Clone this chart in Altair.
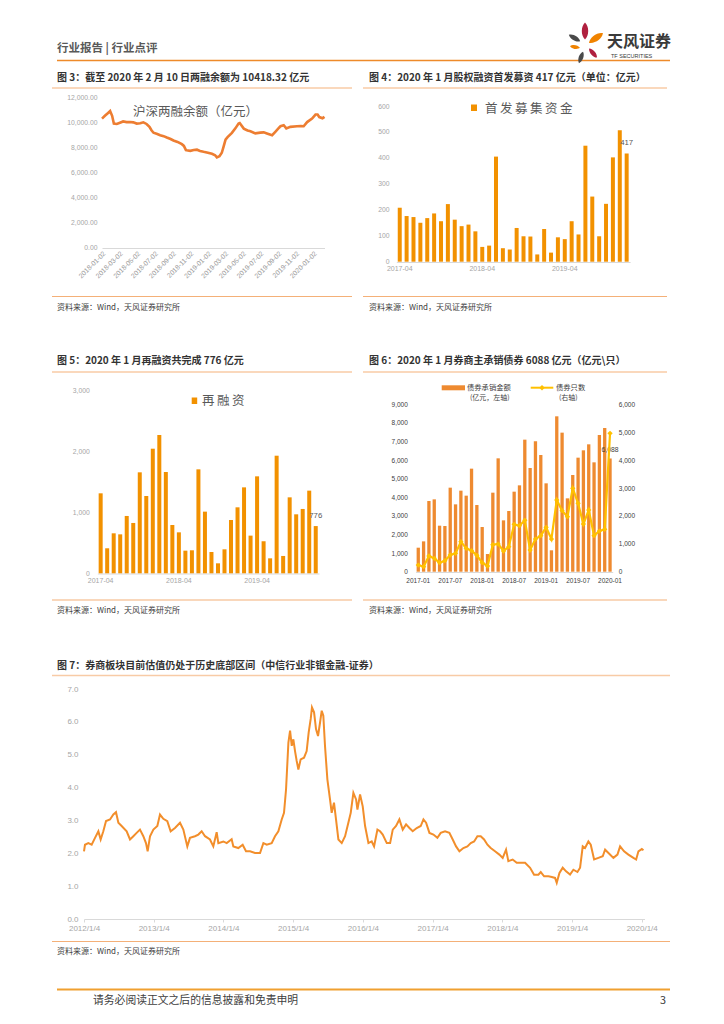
import altair as alt
import pandas as pd

FONT = "Noto Sans CJK SC"
NUMF = "Liberation Sans"
W, H = 708, 1008
M = 8  # page margin


def vx(x):
    return round(x - M, 2)


def vy(y):
    return round(y - M, 2)


# ---------------- data ----------------
fig3_points = [
    ("2018-01-02", 10280), ("2018-01-12", 10500), ("2018-01-24", 10750), ("2018-01-30", 10880),
    ("2018-02-06", 10500), ("2018-02-12", 9880), ("2018-02-22", 9850), ("2018-03-05", 9950),
    ("2018-03-16", 10050), ("2018-03-28", 10000), ("2018-04-09", 10010), ("2018-04-20", 9980),
    ("2018-05-02", 9880), ("2018-05-14", 9900), ("2018-05-25", 9980), ("2018-06-05", 9850),
    ("2018-06-15", 9620), ("2018-06-22", 9350), ("2018-06-29", 9150), ("2018-07-12", 9050),
    ("2018-07-22", 8950), ("2018-08-03", 8880), ("2018-08-14", 8770), ("2018-08-27", 8650),
    ("2018-09-06", 8530), ("2018-09-20", 8420), ("2018-10-05", 8240), ("2018-10-12", 8100),
    ("2018-10-19", 7760), ("2018-11-03", 7710), ("2018-11-15", 7780), ("2018-11-26", 7800),
    ("2018-12-07", 7700), ("2018-12-19", 7630), ("2019-01-03", 7560), ("2019-01-17", 7470),
    ("2019-01-28", 7360), ("2019-02-03", 7190), ("2019-02-12", 7280), ("2019-02-20", 7550),
    ("2019-02-26", 8030), ("2019-03-05", 8600), ("2019-03-12", 8800), ("2019-03-27", 9140),
    ("2019-04-08", 9500), ("2019-04-19", 9880), ("2019-04-23", 9920), ("2019-05-07", 9480),
    ("2019-05-20", 9330), ("2019-05-30", 9270), ("2019-06-16", 9100), ("2019-07-03", 9160),
    ("2019-07-15", 9180), ("2019-07-26", 9090), ("2019-08-13", 8950), ("2019-08-24", 9220),
    ("2019-09-06", 9550), ("2019-09-11", 9670), ("2019-09-22", 9750), ("2019-10-01", 9500),
    ("2019-10-15", 9620), ("2019-11-07", 9670), ("2019-11-20", 9680), ("2019-11-30", 9670),
    ("2019-12-12", 10000), ("2019-12-29", 10280), ("2020-01-10", 10600), ("2020-01-17", 10600),
    ("2020-01-23", 10400), ("2020-02-03", 10300), ("2020-02-10", 10418),
]
fig3_ticks = ["2018-01-02", "2018-03-02", "2018-05-02", "2018-07-02", "2018-09-02", "2018-11-02",
              "2019-01-02", "2019-03-02", "2019-05-02", "2019-07-02", "2019-09-02", "2019-11-02",
              "2020-01-02"]

fig4_months = [str(p) for p in pd.period_range("2017-04", "2020-01", freq="M")]
fig4_vals = [208, 176, 172, 150, 168, 186, 156, 222, 162, 137, 143, 117, 57, 62, 405, 52, 47,
             130, 98, 97, 28, 126, 35, 94, 87, 156, 105, 447, 251, 98, 223, 402, 507, 417]
fig4_ticks = ["2017-04", "2018-04", "2019-04"]

fig5_months = [str(p) for p in pd.period_range("2017-04", "2020-01", freq="M")]
fig5_vals = [1314, 411, 657, 640, 942, 827, 1659, 1270, 2047, 2272, 1664, 794, 673, 372, 378,
             1708, 1013, 350, 164, 394, 876, 1084, 1412, 619, 1593, 526, 246, 1932, 285, 1248,
             969, 1057, 1358, 776]
fig5_ticks = ["2017-04", "2018-04", "2019-04"]

fig6_months = [str(p) for p in pd.period_range("2017-01", "2020-01", freq="M")]
fig6_amount = [1291, 1631, 3801, 3890, 2474, 2456, 4518, 3621, 4357, 4088, 5540, 3585, 2402,
               950, 4249, 6095, 2761, 3263, 4303, 4643, 7099, 5575, 7010, 6275, 4751, 1150,
               8354, 7476, 3944, 5199, 6131, 6526, 6848, 5880, 7350, 7727, 6088]
fig6_count = [239, 179, 562, 478, 323, 394, 598, 657, 1076, 837, 753, 586, 323, 203, 968, 992,
              741, 896, 1697, 1649, 1841, 777, 1171, 1291, 1590, 1171, 2570, 2187, 1972, 2988,
              2450, 1709, 2211, 1291, 1458, 1518, 4960]
fig6_ticks = ["2017-01", "2017-07", "2018-01", "2018-07", "2019-01", "2019-07", "2020-01"]

fig7_points = [
    (2012.000, 2.06), (2012.014, 2.26), (2012.062, 2.31), (2012.110, 2.26), (2012.158, 2.47),
    (2012.206, 2.67), (2012.239, 2.42), (2012.277, 2.67), (2012.316, 2.98), (2012.373, 3.03),
    (2012.421, 3.18), (2012.459, 3.25), (2012.493, 2.93), (2012.540, 2.83), (2012.612, 2.67),
    (2012.660, 2.42), (2012.708, 2.52), (2012.755, 2.62), (2012.803, 2.72), (2012.851, 2.52),
    (2012.889, 2.31), (2012.913, 2.06), (2012.947, 2.52), (2012.995, 2.72), (2013.052, 2.83),
    (2013.090, 3.18), (2013.138, 3.05), (2013.195, 2.98), (2013.243, 2.67), (2013.305, 2.77),
    (2013.377, 2.93), (2013.425, 2.72), (2013.482, 2.21), (2013.520, 2.47), (2013.592, 2.52),
    (2013.640, 2.57), (2013.688, 2.67), (2013.736, 2.52), (2013.807, 2.42), (2013.855, 2.21),
    (2013.903, 2.64), (2013.927, 2.31), (2013.999, 2.36), (2014.047, 2.31), (2014.118, 2.43),
    (2014.142, 2.21), (2014.214, 2.16), (2014.276, 2.26), (2014.324, 2.06), (2014.382, 2.06),
    (2014.453, 2.01), (2014.525, 2.01), (2014.573, 2.31), (2014.621, 2.26), (2014.692, 2.31),
    (2014.740, 2.52), (2014.788, 2.67), (2014.836, 3.03), (2014.869, 3.23), (2014.898, 3.94),
    (2014.932, 5.37), (2014.956, 5.73), (2014.980, 5.27), (2015.003, 5.47), (2015.027, 5.11),
    (2015.051, 4.81), (2015.075, 4.55), (2015.108, 4.86), (2015.156, 4.91), (2015.194, 5.11),
    (2015.223, 5.68), (2015.252, 6.09), (2015.270, 6.44), (2015.300, 6.29), (2015.328, 5.78),
    (2015.357, 5.57), (2015.386, 5.98), (2015.410, 6.34), (2015.433, 6.19), (2015.457, 5.27),
    (2015.491, 4.25), (2015.529, 3.64), (2015.553, 3.23), (2015.586, 3.54), (2015.615, 3.03),
    (2015.649, 2.42), (2015.697, 2.31), (2015.745, 2.52), (2015.792, 2.93), (2015.826, 3.23),
    (2015.864, 3.84), (2015.903, 3.64), (2015.922, 3.33), (2015.960, 3.79), (2015.998, 3.43),
    (2016.032, 2.83), (2016.080, 2.31), (2016.127, 2.36), (2016.161, 2.21), (2016.209, 2.72),
    (2016.247, 2.67), (2016.285, 2.57), (2016.343, 2.31), (2016.391, 2.31), (2016.429, 2.72),
    (2016.476, 2.83), (2016.524, 3.03), (2016.572, 2.72), (2016.620, 2.88), (2016.668, 2.77),
    (2016.715, 2.67), (2016.773, 2.77), (2016.830, 2.83), (2016.869, 3.03), (2016.907, 2.93),
    (2016.955, 2.62), (2017.012, 2.57), (2017.069, 2.47), (2017.117, 2.62), (2017.179, 2.67),
    (2017.241, 2.62), (2017.289, 2.42), (2017.337, 2.21), (2017.385, 2.06), (2017.442, 2.16),
    (2017.500, 2.21), (2017.548, 2.31), (2017.596, 2.36), (2017.643, 2.52), (2017.691, 2.52),
    (2017.739, 2.42), (2017.787, 2.26), (2017.834, 2.16), (2017.896, 2.06), (2017.958, 1.96),
    (2018.006, 1.86), (2018.054, 2.11), (2018.087, 1.76), (2018.149, 1.81), (2018.207, 1.71),
    (2018.264, 1.71), (2018.327, 1.71), (2018.399, 1.56), (2018.456, 1.35), (2018.518, 1.35),
    (2018.552, 1.43), (2018.600, 1.30), (2018.662, 1.30), (2018.710, 1.28), (2018.757, 1.25),
    (2018.781, 1.10), (2018.820, 1.40), (2018.867, 1.56), (2018.915, 1.45), (2018.972, 1.35),
    (2019.020, 1.50), (2019.078, 1.43), (2019.116, 1.56), (2019.154, 2.21), (2019.187, 2.16),
    (2019.235, 2.36), (2019.269, 2.26), (2019.317, 1.81), (2019.379, 1.86), (2019.441, 1.91),
    (2019.475, 2.11), (2019.523, 2.01), (2019.594, 1.86), (2019.652, 1.96), (2019.690, 2.21),
    (2019.747, 2.06), (2019.809, 1.96), (2019.881, 1.86), (2019.920, 1.81), (2019.953, 2.06),
    (2020.001, 2.13), (2020.025, 2.09),
]
fig7_years = list(range(2012, 2021))

# ---------------- helpers ----------------
one = pd.DataFrame({"k": [0]})


def txt(s, x, y, size=8.0, color="#404040", weight="normal", align="left", font=FONT):
    return alt.Chart(one).mark_text(
        text=s, align=align, baseline="middle", fontSize=size, color=color,
        fontWeight=weight, font=font
    ).encode(x=alt.value(vx(x)), y=alt.value(vy(y)))


def hrule(x1, x2, y, color, width=1.0):
    return alt.Chart(one).mark_rule(color=color, strokeWidth=width).encode(
        x=alt.value(vx(x1)), x2=alt.value(vx(x2)), y=alt.value(vy(y)))


def box(x1, x2, y1, y2, color):
    return alt.Chart(one).mark_rect(color=color).encode(
        x=alt.value(vx(x1)), x2=alt.value(vx(x2)), y=alt.value(vy(y1)), y2=alt.value(vy(y2)))


PETAL = "M0,-1C0.5,-0.55 0.5,0.55 0,1C-0.5,0.55 -0.5,-0.55 0,-1Z"


def petal(x, y, h, angle, color):
    return alt.Chart(one).mark_point(
        shape=PETAL, filled=True, size=h * h, angle=angle, color=color, opacity=1
    ).encode(x=alt.value(vx(x)), y=alt.value(vy(y)))


def axis(orient, offset, **kw):
    d = dict(orient=orient, offset=offset, grid=False, ticks=False, domain=False,
             labelFont=NUMF, labelFontSize=6.8, labelColor="#A6A6A6", title=None,
             labelFlush=False, labelOverlap=False, labelBound=False)
    d.update(kw)
    return alt.Axis(**d)


def dt(s):
    y, m, d = (int(p) for p in s.split("-"))
    return alt.DateTime(year=y, month=m, date=d)


TITLE_C = "#333333"
SRC = "资料来源：Wind，天风证券研究所"
U_LIGHT = "#F8CBA6"
U_SRC = "#F4B078"

decor = [
    # header
    txt("行业报告 | 行业点评", 57, 48.5, size=11.5, color="#595959", weight="bold"),
    hrule(57, 670, 60.5, "#EE8A2A", 1.6),
    petal(585, 31, 17, 0, "#B0203F"),
    petal(574.5, 38, 13, 300, "#4A4A4A"),
    petal(596, 38, 17, 55, "#F08300"),
    petal(575, 47, 10, 100, "#F08300"),
    petal(593, 53, 12, 140, "#B0203F"),
    petal(581, 57.5, 12, 20, "#4A4A4A"),
    txt("天风证券", 607, 42, size=16, color="#3A3A3A", weight="bold"),
    txt("TF SECURITIES", 611, 56, size=5.5, color="#3A3A3A", font=NUMF),
    # row 1 titles / rules
    txt("图 3：截至 2020 年 2 月 10 日两融余额为 10418.32 亿元", 57, 78, size=10, color=TITLE_C, weight="bold"),
    txt("图 4：2020 年 1 月股权融资首发募资 417 亿元（单位：亿元）", 369, 78, size=10, color=TITLE_C, weight="bold"),
    hrule(52, 352, 88, U_LIGHT, 1.6),
    hrule(363, 667, 88, U_LIGHT, 1.6),
    hrule(52, 352, 296.5, U_SRC, 1.2),
    hrule(363, 667, 296.5, U_SRC, 1.2),
    txt(SRC, 57, 307.5, size=8, color="#404040"),
    txt(SRC, 369, 307.5, size=8, color="#404040"),
    txt("沪深两融余额（亿元）", 133, 111.5, size=12.5, color="#595959"),
    box(471, 477, 104.5, 111, "#F29100"),
    txt("首\u2009发\u2009募\u2009集\u2009资\u2009金", 485, 109, size=12.5, color="#595959"),
    # row 2
    txt("图 5：2020 年 1 月再融资共完成 776 亿元", 57, 361, size=10, color=TITLE_C, weight="bold"),
    txt("图 6：2020 年 1 月券商主承销债券 6088 亿元（亿元\\只）", 369, 361, size=10, color=TITLE_C, weight="bold"),
    hrule(52, 352, 372, U_LIGHT, 1.6),
    hrule(363, 667, 372, U_LIGHT, 1.6),
    hrule(52, 352, 600, U_SRC, 1.2),
    hrule(363, 667, 600, U_SRC, 1.2),
    txt(SRC, 57, 610.5, size=8, color="#404040"),
    txt(SRC, 369, 610.5, size=8, color="#404040"),
    box(191.7, 197.2, 397.5, 404, "#F29100"),
    txt("再\u2009融\u2009资", 202, 401, size=12.5, color="#595959"),
    box(441.7, 465, 385.3, 390.3, "#EE8A30"),
    txt("债券承销金额", 467, 387.7, size=7.3, color="#404040"),
    txt("(亿元，左轴)", 470, 397.5, size=7, color="#404040"),
    hrule(530.7, 553.3, 387.7, "#FFC000", 2),
    alt.Chart(one).mark_point(shape="diamond", filled=True, size=30, color="#FFC000", opacity=1).encode(
        x=alt.value(vx(542)), y=alt.value(vy(387.7))),
    txt("债券只数", 556, 387.7, size=7.3, color="#404040"),
    txt("(右轴)", 559, 397.5, size=7, color="#404040"),
    # row 3
    txt("图 7：券商板块目前估值仍处于历史底部区间（中信行业非银金融-证券）", 57, 665.5, size=10, color=TITLE_C, weight="bold"),
    hrule(52, 670, 675.5, U_LIGHT, 1.6),
    hrule(52, 670, 941.5, U_SRC, 1.2),
    txt(SRC, 57, 951.5, size=8, color="#404040"),
    # footer
    hrule(57, 670, 989.5, "#F0A030", 2),
    txt("请务必阅读正文之后的信息披露和免责申明", 93, 1000.5, size=10.8, color="#404040"),
    txt("3", 666, 1000.5, size=10.8, color="#404040", align="right"),
]

# ---------------- fig 3 ----------------
d3 = pd.DataFrame({"date": pd.to_datetime([d for d, _ in fig3_points]),
                   "v": [v for _, v in fig3_points]})
fig3 = alt.Chart(d3).mark_line(color="#ED7D31", strokeWidth=2.6).encode(
    x=alt.X("date:T",
            scale=alt.Scale(domain=[dt("2018-01-02"), dt("2020-02-10")], range=[vx(102), vx(324.5)]),
            axis=axis("bottom", vy(248) - H, values=[dt(s) for s in fig3_ticks], format="%Y-%m-%d",
                      labelAngle=-45, domain=True, domainColor="#D9D9D9", labelPadding=2,
                      labelColor="#999999")),
    y=alt.Y("v:Q", scale=alt.Scale(domain=[0, 12000], range=[vy(247.5), vy(97)], nice=False),
            axis=axis("left", -vx(100), values=list(range(0, 12001, 2000)), format=",.2f", labelPadding=3)),
)

# ---------------- fig 4 ----------------
d4 = pd.DataFrame({"m": fig4_months, "v": fig4_vals})
d4["lab"] = ["" for _ in fig4_vals[:-1]] + [str(fig4_vals[-1])]
x4 = alt.X("m:N", sort=None,
           scale=alt.Scale(domain=fig4_months, range=[vx(396.3), vx(630.1)], paddingInner=0.42, paddingOuter=0.21),
           axis=axis("bottom", vy(262) - H, values=fig4_ticks, labelAngle=0, domain=True,
                     domainColor="#D9D9D9", labelPadding=2, labelFontSize=7))
y4 = alt.Y("v:Q", scale=alt.Scale(domain=[0, 600], range=[vy(261.7), vy(106)], nice=False),
           axis=axis("left", -vx(392), values=list(range(0, 601, 100)), format="d", labelPadding=3))
fig4 = alt.layer(
    alt.Chart(d4).mark_bar(color="#F29100").encode(x=x4, y=y4),
    alt.Chart(d4).mark_text(dy=-10.5, fontSize=7.8, color="#595959", font=NUMF).encode(x=x4, y=y4, text="lab:N"),
)

# ---------------- fig 5 ----------------
d5 = pd.DataFrame({"m": fig5_months, "v": fig5_vals})
d5["lab"] = ["" for _ in fig5_vals[:-1]] + [str(fig5_vals[-1])]
x5 = alt.X("m:N", sort=None,
           scale=alt.Scale(domain=fig5_months, range=[vx(97.4), vx(319)], paddingInner=0.386, paddingOuter=0.193),
           axis=axis("bottom", vy(573.5) - H, values=fig5_ticks, labelAngle=0, domain=True,
                     domainColor="#D9D9D9", labelPadding=3, labelFontSize=7))
y5 = alt.Y("v:Q", scale=alt.Scale(domain=[0, 3000], range=[vy(573.3), vy(390.7)], nice=False),
           axis=axis("left", -vx(92.3), values=[0, 1000, 2000, 3000], format=",d", labelPadding=3))
fig5 = alt.layer(
    alt.Chart(d5).mark_bar(color="#F29100").encode(x=x5, y=y5),
    alt.Chart(d5).mark_text(dy=-10.3, fontSize=7.8, color="#595959", font=NUMF).encode(x=x5, y=y5, text="lab:N"),
)

# ---------------- fig 6 ----------------
d6 = pd.DataFrame({"m": fig6_months, "amt": fig6_amount, "cnt": fig6_count})
d6["lab"] = ["" for _ in fig6_amount[:-1]] + [f"{fig6_amount[-1]:,}"]
DARK = "#404040"
x6 = alt.X("m:N", sort=None,
           scale=alt.Scale(domain=fig6_months, range=[vx(415.6), vx(612.7)], paddingInner=0.38, paddingOuter=0.19),
           axis=axis("bottom", vy(572) - H, values=fig6_ticks, labelAngle=0, domain=True,
                     domainColor="#D9D9D9", labelPadding=5, labelFontSize=6.5, labelColor=DARK))
y6l = alt.Y("amt:Q", scale=alt.Scale(domain=[0, 9000], range=[vy(571.7), vy(404.3)], nice=False),
            axis=axis("left", -vx(409.3), values=list(range(0, 9001, 1000)), format=",d", labelPadding=2,
                      labelFontSize=6.5, labelColor=DARK))
y6r = alt.Y("cnt:Q", scale=alt.Scale(domain=[0, 6000], range=[vy(571.7), vy(404.3)], nice=False),
            axis=axis("right", vx(616.3) - W, values=list(range(0, 6001, 1000)), format=",d", labelPadding=2,
                      labelFontSize=6.5, labelColor=DARK))
fig6 = alt.layer(
    alt.layer(
        alt.Chart(d6).mark_bar(color="#EE8A30").encode(x=x6, y=y6l),
        alt.Chart(d6).mark_text(dy=-8.5, fontSize=6.8, color=DARK, font=NUMF).encode(x=x6, y=y6l, text="lab:N"),
    ),
    alt.Chart(d6).mark_line(
        color="#FFC000", strokeWidth=2.2,
        point=alt.OverlayMarkDef(shape="diamond", filled=True, size=28, color="#FFC000"),
    ).encode(x=x6, y=y6r),
).resolve_scale(y="independent")

# ---------------- fig 7 ----------------
d7 = pd.DataFrame({"t": [t for t, _ in fig7_points], "v": [v for _, v in fig7_points]})
fig7 = alt.Chart(d7).mark_line(color="#F28E2B", strokeWidth=2).encode(
    x=alt.X("t:Q", scale=alt.Scale(domain=[2012, 2020.04], range=[vx(84), vx(644.5)], nice=False, zero=False),
            axis=axis("bottom", vy(919) - H, values=fig7_years, labelExpr="datum.value + '/1/4'",
                      domain=True, domainColor="#D9D9D9", ticks=True, tickColor="#D9D9D9", tickSize=3,
                      labelPadding=2, labelFontSize=8)),
    y=alt.Y("v:Q", scale=alt.Scale(domain=[0, 7], range=[vy(919), vy(689)], nice=False),
            axis=axis("left", -vx(81), values=list(range(0, 8)), format=".1f", labelPadding=3, labelFontSize=8)),
)

chart = alt.layer(*decor, fig3, fig4, fig5, fig6, fig7).resolve_scale(
    x="independent", y="independent"
).properties(
    width=W, height=H, padding=0, background="white",
    autosize=alt.AutoSizeParams(type="none"),
).configure_view(stroke=None)

chart.save("out.html", embed_options={"renderer": "svg", "actions": False})
